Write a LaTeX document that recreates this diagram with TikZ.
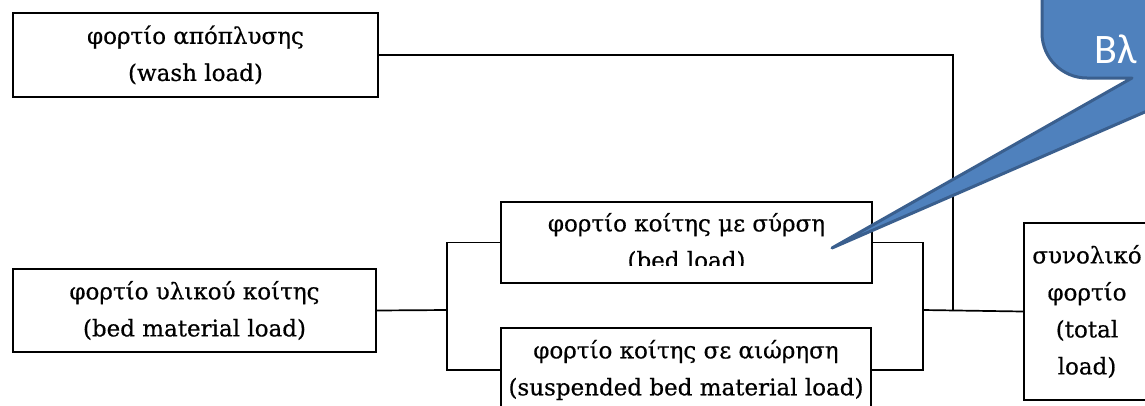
\documentclass[tikz,border=0pt]{standalone}
\usepackage{fontspec}
\setmainfont[FakeBold=0.6]{DejaVu Serif}
\newfontfamily\calloutfont{Carlito}
\definecolor{callfill}{HTML}{4F81BD}
\definecolor{callline}{HTML}{3A5F8E}
\begin{document}
\begin{tikzpicture}[x=1pt,y=-1pt,
  box/.style={draw, line width=1.7pt, inner sep=0pt, align=center,
    font=\fontsize{23}{37}\selectfont},
  conn/.style={line width=1.7pt},
  callout/.style={fill=callfill, draw=callline, line width=3pt, line join=round},
]
\clip (0,0) rectangle (1145,405);
\fill[white] (0,0) rectangle (1145,405);

\node[box, minimum width=365pt, minimum height=84pt] (wash) at (195.5,55)
  {φορτίο απόπλυσης\\(wash load)};
\node[box, minimum width=363pt, minimum height=83pt] (bedmat) at (194.5,310.5)
  {φορτίο υλικού κοίτης\\(bed material load)};
\node[box, minimum width=371pt, minimum height=81pt] (bedload) at (686.5,242.5)
  {φορτίο κοίτης με σύρση\\(bed load)};
\fill[white] (503,266) rectangle (870,281.5);
\node[box, minimum width=370pt, minimum height=84pt] (susp) at (686,370)
  {φορτίο κοίτης σε αιώρηση\\(suspended bed material load)};
\node[box, minimum width=126pt, minimum height=177pt] (total) at (1087,311.5)
  {συνολικό\\φορτίο\\(total\\load)};

\coordinate (A) at (447,310);
\coordinate (B) at (923,310);
\coordinate (C) at (953,310);

\draw[conn] (bedmat.east) -- (A);
\draw[conn] (bedload.west) -| (A) |- (susp.west);
\draw[conn] (bedload.east) -| (B) |- (susp.east);
\draw[conn] (B) -- (total.west);
\draw[conn] (wash.east) -| (C);

\coordinate (tip) at (832,248);
\path[callout] (1042,-60) -- (1042,33) .. controls (1042,57.9) and (1062.1,78) .. (1087,78)
  -- (1132,78) -- (tip) -- (1223,78) -- (1300,78) -- (1300,-60) -- cycle;
\node[anchor=base west, inner sep=0pt, text=white, font=\calloutfont\fontsize{42}{50}\selectfont]
  (calltext) at (1094,63) {Βλ};
\end{tikzpicture}
\end{document}
